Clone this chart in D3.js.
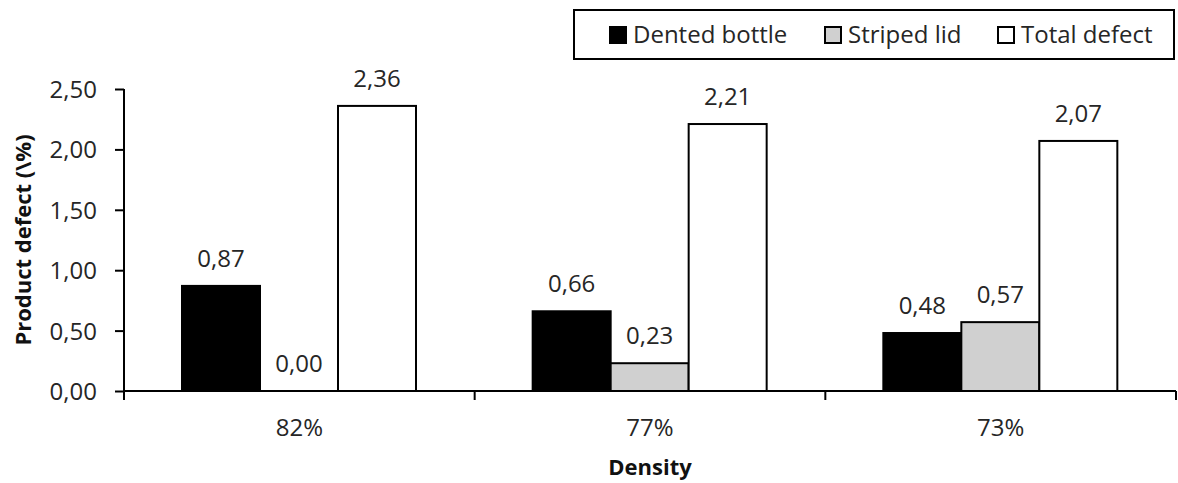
<!DOCTYPE html>
<html>
<head>
<meta charset="utf-8">
<script src="https://cdn.jsdelivr.net/npm/d3@7"></script>
<style>
  html, body { margin: 0; padding: 0; background: #fff; }
  svg { display: block; font-family: "Open Sans", sans-serif; }
</style>
</head>
<body>
<svg id="chart" width="1178" height="483"></svg>
<script>
const categories = ["82%", "77%", "73%"];
const seriesNames = ["Dented bottle", "Striped lid", "Total defect"];
const dentedBottle = [0.87, 0.66, 0.48];
const stripedLid = [0.00, 0.23, 0.57];
const totalDefect = [2.36, 2.21, 2.07];
const yTicks = [0, 0.5, 1.0, 1.5, 2.0, 2.5];
const seriesColors = ["#000000", "#d0d0d0", "#ffffff"];

const seriesValues = [dentedBottle, stripedLid, totalDefect];
const data = categories.map((c, i) => ({
  cat: c,
  vals: seriesNames.map((s, j) => ({ key: s, value: seriesValues[j][i], color: seriesColors[j] }))
}));

const svg = d3.select("#chart");
const margin = { left: 124, right: 1176, top: 89, bottom: 391 };
const fmt = v => d3.format(".2f")(v).replace(".", ",");
const fontSize = 24;
const titleSize = 22;
const textColor = "#262626";

const x0 = d3.scaleBand().domain(categories).range([margin.left, margin.right]).padding(0);
const x1 = d3.scaleBand().domain(seriesNames).range([58, 292]).padding(0);
const y = d3.scaleLinear().domain([0, 2.5]).range([margin.bottom, margin.top]);

// bars
const groups = svg.append("g").selectAll("g").data(data).join("g")
  .attr("transform", d => `translate(${x0(d.cat)},0)`);

groups.selectAll("rect").data(d => d.vals).join("rect")
  .attr("x", d => x1(d.key))
  .attr("y", d => y(d.value))
  .attr("width", x1.bandwidth())
  .attr("height", d => y(0) - y(d.value))
  .attr("fill", d => d.color)
  .attr("stroke", "#000")
  .attr("stroke-width", 2);

groups.selectAll("text").data(d => d.vals).join("text")
  .attr("x", d => x1(d.key) + x1.bandwidth() / 2)
  .attr("y", d => y(d.value) - 19)
  .attr("text-anchor", "middle")
  .attr("font-size", fontSize)
  .attr("fill", textColor)
  .text(d => fmt(d.value));

// y axis
const yAxis = d3.axisLeft(y).tickValues(yTicks).tickFormat(fmt).tickSize(9).tickPadding(18);
const gy = svg.append("g").attr("transform", `translate(${margin.left},0)`).call(yAxis);
gy.select(".domain").attr("stroke", "#000").attr("stroke-width", 2).attr("d", `M0,${margin.top}V${margin.bottom + 9}`);
gy.selectAll(".tick line").attr("stroke", "#000").attr("stroke-width", 2);
gy.selectAll(".tick text").attr("font-size", fontSize).attr("fill", textColor).attr("font-family", "Open Sans, sans-serif").attr("dy", "0.35em");

// x axis
const xAxis = d3.axisBottom(x0).tickSize(0).tickPadding(28);
const gx = svg.append("g").attr("transform", `translate(0,${margin.bottom})`).call(xAxis);
gx.select(".domain").attr("stroke", "#000").attr("stroke-width", 2).attr("d", `M${margin.left},0H${margin.right}`);
gx.selectAll(".tick text").attr("font-size", fontSize).attr("fill", textColor).attr("font-family", "Open Sans, sans-serif");
// boundary ticks between groups
const boundaries = categories.map(c => x0(c)).concat([x0(categories[categories.length - 1]) + x0.bandwidth()]);
gx.selectAll(".bound").data(boundaries).join("line")
  .attr("x1", d => d).attr("x2", d => d).attr("y1", 0).attr("y2", 9)
  .attr("stroke", "#000").attr("stroke-width", 2);

// axis titles
svg.append("text")
  .attr("transform", `translate(31,240) rotate(-90)`)
  .attr("text-anchor", "middle")
  .attr("font-size", titleSize)
  .attr("font-weight", "bold")
  .attr("fill", "#111")
  .text("Product defect (\\%)");

svg.append("text")
  .attr("x", (margin.left + margin.right) / 2)
  .attr("y", 475)
  .attr("text-anchor", "middle")
  .attr("font-size", titleSize)
  .attr("font-weight", "bold")
  .attr("fill", "#111")
  .text("Density");

// legend
const legend = svg.append("g");
legend.append("rect").attr("x", 574).attr("y", 10).attr("width", 600).attr("height", 49)
  .attr("fill", "#fff").attr("stroke", "#000").attr("stroke-width", 2);
const legendX = [609, 824, 997];
const items = legend.selectAll("g.item").data(seriesNames).join("g").attr("class", "item")
  .attr("transform", (d, i) => `translate(${legendX[i]},0)`);
items.append("rect").attr("x", 1).attr("y", 27).attr("width", 16).attr("height", 16)
  .attr("fill", (d, i) => seriesColors[i]).attr("stroke", "#000").attr("stroke-width", 2);
items.append("text").attr("x", 24).attr("y", 43).attr("font-size", fontSize)
  .attr("fill", textColor).text(d => d);
</script>
</body>
</html>
